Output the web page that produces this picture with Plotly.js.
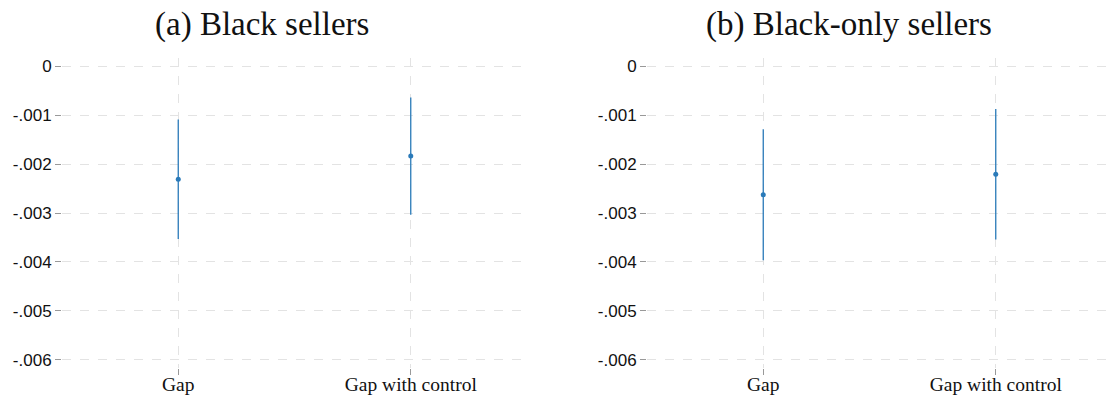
<!DOCTYPE html>
<html>
<head>
<meta charset="utf-8">
<script src="https://cdn.plot.ly/plotly-3.0.1.min.js"></script>
<style>html,body{margin:0;padding:0;background:#fff;}#chart{width:1112px;height:398px;}</style>
</head>
<body>
<div id="chart"></div>
<script>
// Data
const categories = ["Gap", "Gap with control"];
const panelTitles = ["(a) Black sellers", "(b) Black-only sellers"];
const estA = [-0.00231, -0.001835];
const ciLowA = [-0.00353, -0.003034];
const ciHighA = [-0.00109, -0.000636];
const estB = [-0.002626, -0.00221];
const ciLowB = [-0.003966, -0.003544];
const ciHighB = [-0.001285, -0.000875];
const yTickVals = [0, -0.001, -0.002, -0.003, -0.004, -0.005, -0.006];
const yTickText = ["0", "-.001", "-.002", "-.003", "-.004", "-.005", "-.006"];

const blue = '#2a7ab9';
function trace(est, lo, hi, xa, ya) {
  return {
    type: 'scatter', mode: 'markers', x: categories, y: est,
    xaxis: xa, yaxis: ya,
    marker: {color: blue, size: 5},
    error_y: {type: 'data', symmetric: false,
      array: est.map((v, i) => hi[i] - v),
      arrayminus: est.map((v, i) => v - lo[i]),
      color: blue, thickness: 1.3, width: 0},
    showlegend: false, hoverinfo: 'skip'
  };
}
const data = [
  trace(estA, ciLowA, ciHighA, 'x', 'y'),
  trace(estB, ciLowB, ciHighB, 'x2', 'y2')
];
const gridCol = '#e3e3e3';
function xax(domain) {
  return {domain: domain, range: [-0.5, 1.5], showgrid: true, gridcolor: gridCol, griddash: 'dash', gridwidth: 1,
    zeroline: false, showline: false, ticks: 'outside', ticklen: 6, tickcolor: '#999', tickwidth: 1,
    ticklabelstandoff: -7,
    tickfont: {family: 'Liberation Serif', size: 19.5, color: '#111'}, fixedrange: true};
}
function yax(anchor) {
  return {anchor: anchor, range: [-0.00617, 0.00017], tickvals: yTickVals, ticktext: yTickText,
    showgrid: true, gridcolor: gridCol, griddash: 'dash', gridwidth: 1,
    zeroline: false, showline: false, ticks: 'outside', ticklen: 6, tickcolor: '#999', tickwidth: 1,
    tickfont: {family: 'Liberation Sans', size: 17, color: '#111'}, fixedrange: true};
}
const layout = {
  width: 1112, height: 398,
  margin: {l: 0, r: 0, t: 58, b: 30},
  paper_bgcolor: '#fff', plot_bgcolor: '#fff',
  xaxis: Object.assign(xax([62/1112, 527/1112]), {anchor: 'y'}),
  yaxis: yax('x'),
  xaxis2: Object.assign(xax([647/1112, 1]), {anchor: 'y2'}),
  yaxis2: yax('x2'),
  annotations: [
    {text: panelTitles[0], xref: 'paper', yref: 'paper', x: 262/1112, y: 1, yshift: 34, xanchor: 'center', yanchor: 'middle', showarrow: false,
     font: {family: 'Liberation Serif', size: 33, color: '#111'}},
    {text: panelTitles[1], xref: 'paper', yref: 'paper', x: 849/1112, y: 1, yshift: 34, xanchor: 'center', yanchor: 'middle', showarrow: false,
     font: {family: 'Liberation Serif', size: 33, color: '#111'}}
  ]
};
Plotly.newPlot('chart', data, layout, {displayModeBar: false, staticPlot: true});
</script>
</body>
</html>
